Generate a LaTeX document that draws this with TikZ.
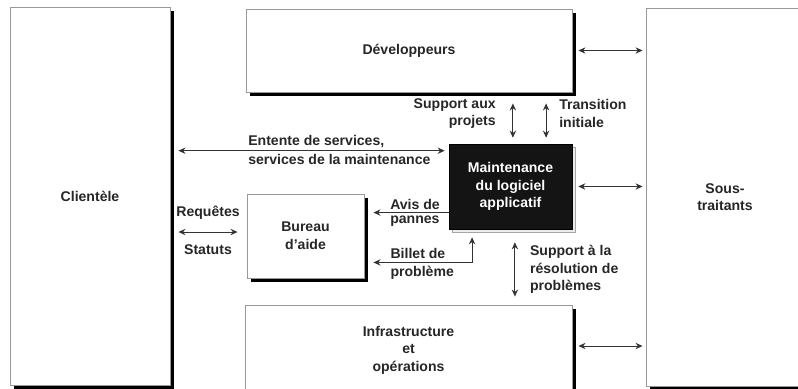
\documentclass[tikz,border=0pt]{standalone}
\usepackage{fontspec}
\setmainfont{Liberation Sans}
\usetikzlibrary{positioning, shadows, arrows.meta}

\begin{document}
\begin{tikzpicture}[
        x=0.025cm, y=-0.025cm,
        % Define styles for the components
        every node/.style={font=\fontsize{10}{12.5}\selectfont\bfseries, text=black!85},
        box/.style={rectangle, draw=gray!80, line width=0.6pt, fill=white, align=center, drop shadow={shadow xshift=0.09cm, shadow yshift=-0.09cm, fill=black, opacity=1}},
        darkbox/.style={rectangle, draw=black, fill=black!92, text=white, align=center, drop shadow={shadow xshift=0.09cm, shadow yshift=-0.09cm, fill=gray!15, draw=gray!70, opacity=1}},
        biarrow/.style={line width=0.7pt, draw=black!80, {Stealth[length=5pt,width=4.5pt]}-{Stealth[length=5pt,width=4.5pt]}},
        arrow/.style={line width=0.7pt, draw=black!80, -{Stealth[length=5pt,width=4.5pt]}},
        lbl/.style={inner sep=2pt, align=left}
    ]
    \useasboundingbox (0,0) rectangle (798,389);
    \clip (0,0) rectangle (798,389);

    % Define nodes
    \node[box, minimum width=4cm, minimum height=9.43cm] (client) at (90,196.5) {Clientèle};
    \node[box, minimum width=3.95cm, minimum height=9.45cm] (sous) at (725,197) {Sous-\\traitants};
    \node[box, minimum width=8.15cm, minimum height=2.075cm] (dev) at (409,50.5) {Développeurs};
    \node[darkbox, minimum width=3.075cm, minimum height=2.125cm] (maint) at (510.5,186.5) {Maintenance\\du logiciel\\applicatif};
    \node[box, minimum width=2.925cm, minimum height=2.1cm] (bureau) at (305.5,236) {Bureau\\d'aide};
    \node[box, minimum width=8.175cm, minimum height=2.25cm] (infra) at (408.5,350) {Infrastructure\\et\\opérations};

    % Helper points
    \coordinate (ent) at ([yshift=-0.175cm]maint.north west);
    \coordinate (avis) at ([yshift=-0.475cm]bureau.north east);
    \coordinate (billet) at ([yshift=0.4cm]bureau.south east);

    % Draw arrows
    \draw[biarrow] ([xshift=0.15cm]dev.east) -- ([xshift=-0.075cm]sous.west |- dev.east);
    \draw[biarrow] ([xshift=0.15cm]maint.east) -- ([xshift=-0.075cm]sous.west |- maint.east);
    \draw[biarrow] ([xshift=0.15cm,yshift=0.1cm]infra.east) -- ([xshift=-0.075cm,yshift=0.1cm]sous.west |- infra.east);

    \draw[biarrow] ([xshift=0.2cm]client.east |- ent) -- ([xshift=-0.1cm]ent)
        node[lbl, pos=0.25, anchor=south west] {Entente de services,}
        node[lbl, pos=0.25, anchor=north west] {services de la maintenance};
    \draw[biarrow] ([xshift=0.2cm,yshift=0.1cm]client.east |- bureau.west) -- ([xshift=-0.225cm,yshift=0.1cm]bureau.west)
        node[midway, above=5pt] {Requêtes}
        node[midway, below=5pt] {Statuts};

    \draw[arrow] (maint.west |- avis) -- ([xshift=0.225cm]avis)
        node[lbl, pos=0.82, anchor=south west] {Avis de}
        node[lbl, pos=0.82, anchor=north west] {pannes};
    \draw[biarrow] ([xshift=0.225cm]billet) -| ([xshift=-0.96cm,yshift=-0.2cm]maint.south)
        node[lbl, pos=0.07, anchor=south west] {Billet de}
        node[lbl, pos=0.07, anchor=north west] {problème};

    \draw[biarrow] ([xshift=0.06cm,yshift=0.15cm]maint.north) -- ([xshift=0.06cm,yshift=-0.275cm]maint.north |- dev.south)
        node[midway, anchor=east, align=right, xshift=-0.3cm, yshift=0.18cm] {Support aux\\projets};
    \draw[biarrow] ([xshift=0.89cm,yshift=0.15cm]maint.north) -- ([xshift=0.89cm,yshift=-0.275cm]maint.north |- dev.south)
        node[midway, anchor=west, align=left, xshift=0.2cm, yshift=0.18cm] {Transition\\initiale};
    \draw[biarrow] ([xshift=0.11cm,yshift=-0.325cm]maint.south) -- ([xshift=0.11cm,yshift=0.2cm]maint.south |- infra.north)
        node[midway, anchor=west, align=left, xshift=0.25cm] {Support à la\\résolution de\\problèmes};
\end{tikzpicture}
\end{document}
